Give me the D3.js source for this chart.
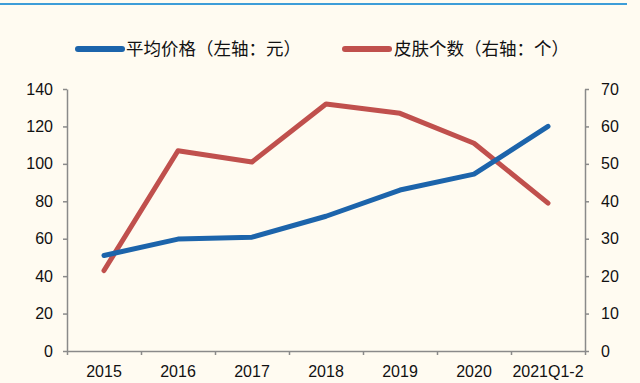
<!DOCTYPE html>
<html><head><meta charset="utf-8">
<script src="https://cdn.jsdelivr.net/npm/d3@7"></script>
<style>
html,body{margin:0;padding:0;background:#fffbf1;}
svg{display:block;}
</style></head>
<body>
<svg id="c" width="640" height="383"></svg>
<script>
const categories = ["2015","2016","2017","2018","2019","2020","2021Q1-2"];
const avgPrice = [51, 59.8, 60.8, 72, 86, 94.5, 120];
const skinCount = [21.5, 53.5, 50.5, 66, 63.5, 55.5, 39.5];
const leftTicks = [0,20,40,60,80,100,120,140];
const rightTicks = [0,10,20,30,40,50,60,70];
const seriesNames = ["平均价格（左轴：元）","皮肤个数（右轴：个）"];

const svg = d3.select("#c");
const W = 640, H = 383;
const m = {l:67, r:55, t:89, b:32};
const x0 = m.l, x1 = W - m.r, y0 = H - m.b, y1 = m.t;

svg.append("rect").attr("width",W).attr("height",H).attr("fill","#fffbf1");
svg.append("line").attr("x1",0).attr("x2",627).attr("y1",4).attr("y2",4)
  .attr("stroke","#3d9dd8").attr("stroke-width",2);

const x = d3.scaleBand().domain(categories).range([x0,x1]);
const xb = d3.scaleLinear().domain([0,categories.length]).range([x0,x1]);
const yL = d3.scaleLinear().domain([0,140]).range([y0,y1]);
const yR = d3.scaleLinear().domain([0,70]).range([y0,y1]);

const axisColor = "#8a8a8a";
const font = "'Liberation Sans', Arial, sans-serif";

function style(g){
  g.selectAll("path,line").attr("stroke",axisColor).attr("stroke-width",1.5);
  g.selectAll("text").attr("fill","#111").style("font-family",font).style("font-size","16px");
}

svg.append("g").attr("transform",`translate(${x0},0)`)
  .call(d3.axisLeft(yL).tickValues(leftTicks).tickSize(4).tickSizeOuter(0).tickPadding(10))
  .call(style);
svg.append("g").attr("transform",`translate(${x1},0)`)
  .call(d3.axisRight(yR).tickValues(rightTicks).tickSize(4).tickSizeOuter(0).tickPadding(12))
  .call(style);
svg.append("g").attr("transform",`translate(0,${y0})`)
  .call(d3.axisBottom(xb).tickValues(d3.range(categories.length+1)).tickSize(4).tickSizeOuter(0).tickFormat(""))
  .call(style);
svg.append("g").attr("transform",`translate(0,${y0})`)
  .call(d3.axisBottom(x).tickSize(0).tickPadding(15))
  .call(style)
  .call(g=>g.select(".domain").remove());

const cx = d => x(d) + x.bandwidth()/2;
const lineL = d3.line().x((d,i)=>cx(categories[i])).y(d=>yL(d));
const lineR = d3.line().x((d,i)=>cx(categories[i])).y(d=>yR(d));

const blue = "#1c64ab", red = "#c0504d";
svg.append("path").datum(skinCount).attr("d",lineR).attr("fill","none")
  .attr("stroke",red).attr("stroke-width",5).attr("stroke-linejoin","round").attr("stroke-linecap","round");
svg.append("path").datum(avgPrice).attr("d",lineL).attr("fill","none")
  .attr("stroke",blue).attr("stroke-width",5).attr("stroke-linejoin","round").attr("stroke-linecap","round");

// legend
const leg = [{c:blue, lx:78, tx:126},{c:red, lx:345, tx:394}];
leg.forEach((L,i)=>{
  svg.append("line").attr("x1",L.lx).attr("x2",L.lx+44).attr("y1",49).attr("y2",49)
    .attr("stroke",L.c).attr("stroke-width",6).attr("stroke-linecap","round");
  svg.append("text").attr("x",L.tx).attr("y",49).attr("dy","0.36em")
    .style("font-family","'Noto Sans CJK SC', sans-serif").style("font-size","17.5px")
    .attr("fill","#111").text(seriesNames[i]);
});
</script>
</body></html>
